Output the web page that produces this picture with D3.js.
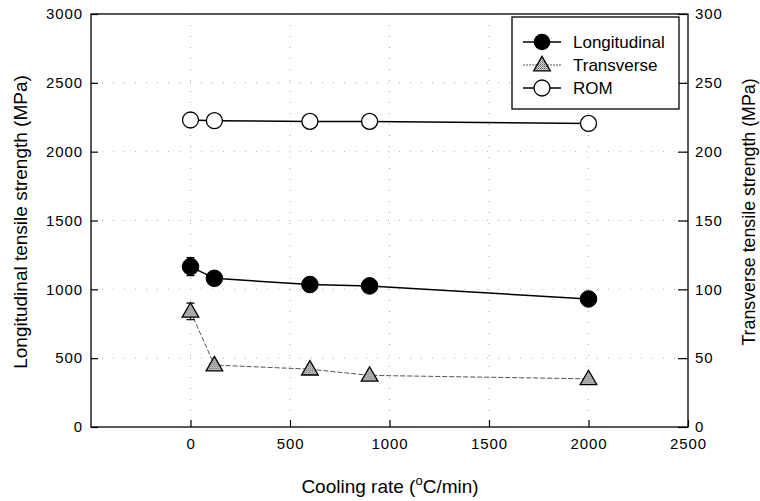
<!DOCTYPE html>
<html>
<head>
<meta charset="utf-8">
<script src="https://cdn.jsdelivr.net/npm/d3@7"></script>
<style>
  body { margin: 0; background: #fff; }
  svg { display: block; font-family: "Liberation Sans", Arial, sans-serif; }
</style>
</head>
<body>
<svg id="chart" width="760" height="501"></svg>
<script>
// Cooling rate (°C/min)
const coolingRate = [0, 120, 600, 900, 2000];
// Longitudinal tensile strength (MPa), left axis
const longitudinal = [1165, 1080, 1035, 1025, 930];
const longitudinalErr = [65, 0, 0, 0, 0];
// Transverse tensile strength (MPa), right axis
const transverse = [84, 45, 42, 37.5, 35];
const transverseErr = [6, 0, 0, 0, 0];
// Rule-of-mixtures prediction (MPa), left axis
const rom = [2230, 2225, 2220, 2220, 2205];

const xTicks = [0, 500, 1000, 1500, 2000, 2500];
const yLeftTicks = [0, 500, 1000, 1500, 2000, 2500, 3000];
const yRightTicks = [0, 50, 100, 150, 200, 250, 300];

const svg = d3.select("#chart");
const plotL = 91, plotR = 688, plotT = 14, plotB = 427;

const x = d3.scaleLinear().domain([-500, 2500]).range([plotL, plotR]);
const yL = d3.scaleLinear().domain([0, 3000]).range([plotB, plotT]);
const yR = d3.scaleLinear().domain([0, 300]).range([plotB, plotT]);

// pattern for the stippled triangle fill
const defs = svg.append("defs");
const pat = defs.append("pattern").attr("id", "stipple")
  .attr("width", 2).attr("height", 2).attr("patternUnits", "userSpaceOnUse");
pat.append("rect").attr("width", 2).attr("height", 2).attr("fill", "#d8d8d8");
pat.append("rect").attr("width", 1).attr("height", 1).attr("fill", "#555");
pat.append("rect").attr("x", 1).attr("y", 1).attr("width", 1).attr("height", 1).attr("fill", "#999");

// faint dotted grid
const grid = svg.append("g").attr("stroke", "#aaa").attr("stroke-width", 1)
  .attr("stroke-dasharray", "1,10");
grid.selectAll(".gx").data(xTicks.slice(0, -1)).join("line")
  .attr("x1", d => x(d)).attr("x2", d => x(d))
  .attr("y1", plotT).attr("y2", plotB);
grid.selectAll(".gy").data(yLeftTicks.slice(1, -1)).join("line")
  .attr("x1", plotL).attr("x2", plotR)
  .attr("y1", d => yL(d)).attr("y2", d => yL(d));

// axes with inward ticks
const axisStyle = g => {
  g.select(".domain").remove();
  g.selectAll(".tick line").attr("stroke", "#000").attr("stroke-width", 1.2);
  g.selectAll(".tick text").attr("font-size", 15).attr("fill", "#000")
    .attr("letter-spacing", 0.9)
    .attr("font-family", "'Liberation Sans', Arial, sans-serif");
};
svg.append("g").attr("transform", `translate(0,${plotB})`)
  .call(d3.axisBottom(x).tickValues(xTicks).tickSizeInner(-7).tickSizeOuter(0).tickPadding(11).tickFormat(d3.format("d")))
  .call(axisStyle);
svg.append("g").attr("transform", `translate(${plotL},0)`)
  .call(d3.axisLeft(yL).tickValues(yLeftTicks).tickSizeInner(-7).tickSizeOuter(0).tickPadding(8).tickFormat(d3.format("d")))
  .call(axisStyle);
svg.append("g").attr("transform", `translate(${plotR},0)`)
  .call(d3.axisRight(yR).tickValues(yRightTicks).tickSizeInner(-10).tickSizeOuter(0).tickPadding(7).tickFormat(d3.format("d")))
  .call(axisStyle);

// plot frame
svg.append("rect").attr("x", plotL).attr("y", plotT)
  .attr("width", plotR - plotL).attr("height", plotB - plotT)
  .attr("fill", "none").attr("stroke", "#000").attr("stroke-width", 1.3);

// axis titles
svg.append("text").attr("transform", `translate(27,222) rotate(-90)`)
  .attr("text-anchor", "middle").attr("font-size", 19).text("Longitudinal tensile strength (MPa)");
svg.append("text").attr("transform", `translate(755,212) rotate(-90)`)
  .attr("text-anchor", "middle").attr("font-size", 17.8).text("Transverse tensile strength (MPa)");
const xt = svg.append("text").attr("x", 390).attr("y", 493)
  .attr("text-anchor", "middle").attr("font-size", 19);
xt.append("tspan").text("Cooling rate (");
xt.append("tspan").attr("font-size", 13).attr("dy", -8).text("o");
xt.append("tspan").attr("dy", 8).text("C/min)");

const pts = coolingRate.map((c, i) => ({
  c, L: longitudinal[i], Le: longitudinalErr[i],
  T: transverse[i], Te: transverseErr[i], R: rom[i]
}));

// lines
svg.append("path").datum(pts).attr("fill", "none").attr("stroke", "#000").attr("stroke-width", 1.5)
  .attr("d", d3.line().x(d => x(d.c)).y(d => yL(d.R)));
svg.append("path").datum(pts).attr("fill", "none").attr("stroke", "#000").attr("stroke-width", 1.5)
  .attr("d", d3.line().x(d => x(d.c)).y(d => yL(d.L)));
svg.append("path").datum(pts).attr("fill", "none").attr("stroke", "#555").attr("stroke-width", 1)
  .attr("stroke-dasharray", "5,2")
  .attr("d", d3.line().x(d => x(d.c)).y(d => yR(d.T)));

// error bars
const errBar = (g, cx, y0, y1) => {
  g.append("line").attr("x1", cx).attr("x2", cx).attr("y1", y0).attr("y2", y1);
  g.append("line").attr("x1", cx - 4).attr("x2", cx + 4).attr("y1", y0).attr("y2", y0);
  g.append("line").attr("x1", cx - 4).attr("x2", cx + 4).attr("y1", y1).attr("y2", y1);
};
const eb = svg.append("g").attr("stroke", "#000").attr("stroke-width", 1.3);
pts.filter(d => d.Le > 0).forEach(d => errBar(eb, x(d.c), yL(d.L + d.Le), yL(d.L - d.Le)));
pts.filter(d => d.Te > 0).forEach(d => errBar(eb, x(d.c), yR(d.T + d.Te), yR(d.T - d.Te)));

// markers
const tri = d3.symbol().type(d3.symbolTriangle).size(120);
svg.append("g").selectAll("circle").data(pts).join("circle")
  .attr("cx", d => x(d.c)).attr("cy", d => yL(d.R)).attr("r", 8)
  .attr("fill", "#fff").attr("stroke", "#000").attr("stroke-width", 1.3);
svg.append("g").selectAll("circle").data(pts).join("circle")
  .attr("cx", d => x(d.c)).attr("cy", d => yL(d.L)).attr("r", 8.3)
  .attr("fill", "#000").attr("stroke", "#000");
svg.append("g").selectAll("path").data(pts).join("path")
  .attr("transform", d => `translate(${x(d.c)},${yR(d.T) + 1})`)
  .attr("d", tri).attr("fill", "url(#stipple)").attr("stroke", "#000").attr("stroke-width", 1.3);

// legend
const lg = svg.append("g");
lg.append("rect").attr("x", 512).attr("y", 17).attr("width", 167).attr("height", 92)
  .attr("fill", "#fff").attr("stroke", "#000").attr("stroke-width", 1.3);
const items = [
  { label: "Longitudinal", y: 42, kind: "L" },
  { label: "Transverse", y: 65, kind: "T" },
  { label: "ROM", y: 88, kind: "R" }
];
items.forEach(it => {
  const line = lg.append("line").attr("x1", 523).attr("x2", 561).attr("y1", it.y).attr("y2", it.y)
    .attr("stroke", it.kind === "T" ? "#555" : "#000").attr("stroke-width", it.kind === "T" ? 1 : 1.5);
  if (it.kind === "T") line.attr("stroke-dasharray", "2,1");
  if (it.kind === "L") lg.append("circle").attr("cx", 542).attr("cy", it.y).attr("r", 8.3).attr("fill", "#000");
  if (it.kind === "R") lg.append("circle").attr("cx", 542).attr("cy", it.y).attr("r", 8)
    .attr("fill", "#fff").attr("stroke", "#000").attr("stroke-width", 1.3);
  if (it.kind === "T") lg.append("path").attr("transform", `translate(542,${it.y + 1})`).attr("d", tri)
    .attr("fill", "url(#stipple)").attr("stroke", "#000").attr("stroke-width", 1.3);
  lg.append("text").attr("x", 573).attr("y", it.y + 6).attr("font-size", 17).text(it.label);
});
</script>
</body>
</html>
